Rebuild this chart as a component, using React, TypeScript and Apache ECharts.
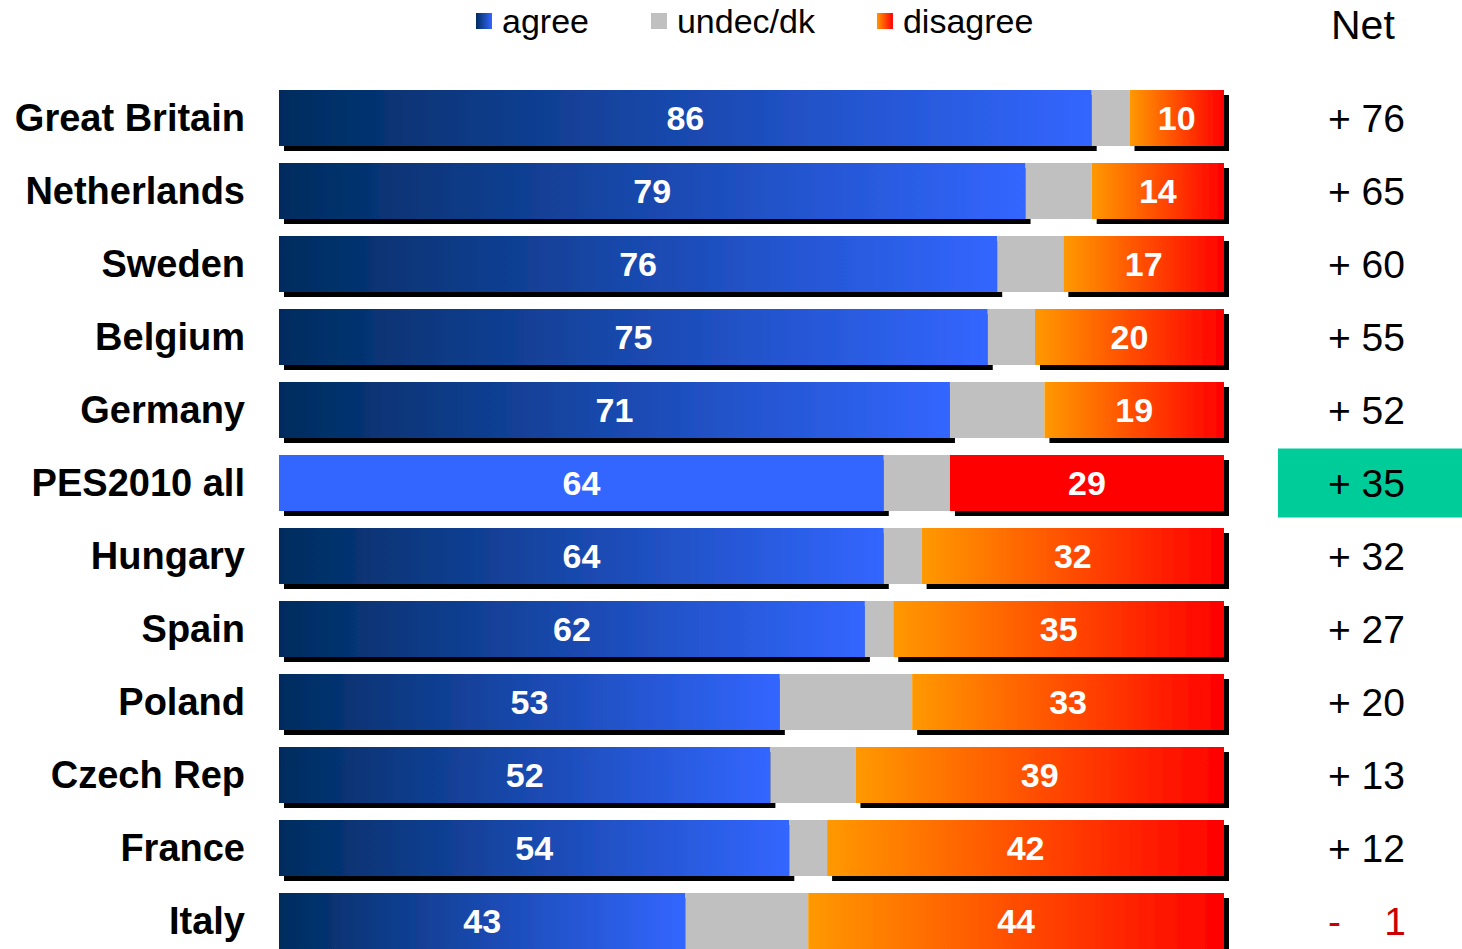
import React, { useEffect, useRef } from 'react';
import * as echarts from 'echarts';

const countries = ['Great Britain', 'Netherlands', 'Sweden', 'Belgium', 'Germany', 'PES2010 all', 'Hungary', 'Spain', 'Poland', 'Czech Rep', 'France', 'Italy'];
const agree = [86, 79, 76, 75, 71, 64, 64, 62, 53, 52, 54, 43];
const undec = [4, 7, 7, 5, 10, 7, 4, 3, 14, 9, 4, 13];
const disagree = [10, 14, 17, 20, 19, 29, 32, 35, 33, 39, 42, 44];
const net = [76, 65, 60, 55, 52, 35, 32, 27, 20, 13, 12, -1];
const seriesNames = ['agree', 'undec/dk', 'disagree'];
const netTitle = 'Net';
const highlightRow = 'PES2010 all';

const FONT = '"Liberation Sans", Arial, sans-serif';

export default function App() {
  const ref = useRef<HTMLDivElement>(null);

  useEffect(() => {
    document.body.style.margin = '0';
    document.documentElement.style.overflow = 'hidden';
    document.body.style.overflow = 'hidden';
    if (!ref.current) return;
    const chart = echarts.init(ref.current, null, { renderer: 'svg' });

    const agreeGrad = new echarts.graphic.LinearGradient(0, 0, 1, 0, [
      { offset: 0, color: '#002C5E' },
      { offset: 1, color: '#3366FF' },
    ]);
    const disagreeGrad = new echarts.graphic.LinearGradient(0, 0, 1, 0, [
      { offset: 0, color: '#FF9900' },
      { offset: 1, color: '#FF0000' },
    ]);
    const shadow = { shadowColor: '#000', shadowOffsetX: 5, shadowOffsetY: 5, shadowBlur: 0 };
    const valueLabel = {
      show: true,
      position: 'inside',
      color: '#fff',
      fontWeight: 'bold',
      fontSize: 34,
      fontFamily: FONT,
    };

    const agreeData = agree.map((v, i) =>
      countries[i] === highlightRow ? { value: v, itemStyle: { color: '#3366FF' } } : v
    );
    const disagreeData = disagree.map((v, i) =>
      countries[i] === highlightRow ? { value: v, itemStyle: { color: '#FF0000' } } : v
    );

    const fmtNet = (n: number) => (n >= 0 ? '+ ' + n : '-    ' + Math.abs(n));

    chart.setOption({
      animation: false,
      textStyle: { fontFamily: FONT },
      title: {
        text: netTitle,
        left: 1331,
        top: 4,
        padding: 0,
        textStyle: { fontSize: 41, fontWeight: 'normal', color: '#000', fontFamily: FONT },
      },
      legend: {
        data: seriesNames,
        left: 476,
        top: 4,
        padding: 0,
        itemWidth: 16,
        itemHeight: 16,
        itemGap: 62,
        icon: 'rect',
        textStyle: { fontSize: 34, color: '#000', fontFamily: FONT, padding: [0, 0, 0, 5] },
      },
      grid: { left: 279, width: 945, top: 81.5, height: 876, outerBoundsMode: 'none', containLabel: false },
      xAxis: { type: 'value', min: 0, max: 100, show: false },
      yAxis: [
        {
          type: 'category',
          data: countries,
          inverse: true,
          axisLine: { show: false },
          axisTick: { show: false },
          splitLine: { show: false },
          axisLabel: {
            margin: 34,
            fontSize: 38,
            fontWeight: 'bold',
            color: '#000',
            fontFamily: FONT,
          },
        },
        {
          type: 'category',
          data: countries,
          inverse: true,
          position: 'right',
          axisLine: { show: false },
          axisTick: { show: false },
          splitLine: { show: false },
          axisLabel: {
            margin: 54,
            formatter: (_v: string, i: number) => {
              const n = net[i];
              const style = countries[i] === highlightRow ? 'h' : n < 0 ? 'neg' : 'n';
              return '{' + style + '|' + fmtNet(n) + '}';
            },
            rich: {
              n: { fontSize: 39, color: '#000', fontFamily: FONT, padding: [0, 0, 0, 50] },
              neg: { fontSize: 39, color: '#CC0000', fontFamily: FONT, padding: [0, 0, 0, 50] },
              h: {
                fontSize: 39,
                color: '#000',
                fontFamily: FONT,
                backgroundColor: '#00CC99',
                padding: [15, 59, 15, 50],
              },
            },
          },
        },
      ],
      series: [
        {
          name: seriesNames[0],
          type: 'bar',
          stack: 'total',
          barWidth: 56,
          data: agreeData,
          itemStyle: { color: agreeGrad, ...shadow },
          label: valueLabel,
        },
        {
          name: seriesNames[1],
          type: 'bar',
          stack: 'total',
          barWidth: 56,
          data: undec,
          itemStyle: { color: '#C0C0C0' },
        },
        {
          name: seriesNames[2],
          type: 'bar',
          stack: 'total',
          barWidth: 56,
          data: disagreeData,
          itemStyle: { color: disagreeGrad, ...shadow },
          label: valueLabel,
        },
      ],
    });

    return () => chart.dispose();
  }, []);

  return (
    <div style={{ width: 1462, height: 949, overflow: 'hidden' }}>
      <div ref={ref} style={{ width: 1462, height: 965 }} />
    </div>
  );
}
